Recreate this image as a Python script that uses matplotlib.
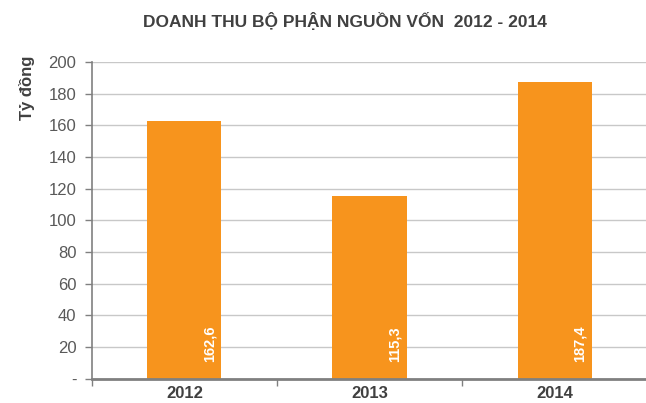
import matplotlib
matplotlib.use("Agg")
import matplotlib.pyplot as plt
import numpy as np

# data
years = ["2012", "2013", "2014"]
revenue = [162.6, 115.3, 187.4]
value_labels = ["162,6", "115,3", "187,4"]
y_ticks = [0, 20, 40, 60, 80, 100, 120, 140, 160, 180, 200]
y_tick_labels = ["-", "20", "40", "60", "80", "100", "120", "140", "160", "180", "200"]

plt.rcParams['font.family'] = ['Liberation Sans', 'DejaVu Sans']

fig = plt.figure(figsize=(6.46, 4.03), dpi=100)
ax = fig.add_axes([0.142, 0.06, 0.86, 0.786])

x = np.arange(len(years))
ax.bar(x, revenue, width=0.40, color='#F7941D', zorder=3)

for xi, lab in zip(x, value_labels):
    ax.text(xi + 0.135, 10.5, lab, rotation=90, ha='center', va='bottom',
            color='white', fontsize=10.5, fontweight='bold', zorder=4)

ax.set_ylim(0, 200)
ax.set_xlim(-0.5, 2.5)
ax.set_yticks(y_ticks)
ax.set_yticklabels(y_tick_labels, fontsize=12, color='#595959')
ax.yaxis.grid(True, color='#C8C8C8', linewidth=1, zorder=0)

# category labels centred, tick marks at boundaries
ax.set_xticks(x)
ax.set_xticklabels(years, fontsize=12, fontweight='bold', color='#404040')
ax.tick_params(axis='x', length=0, pad=5)
ax.set_xticks([-0.5, 0.5, 1.5, 2.5], minor=True)
ax.tick_params(axis='x', which='minor', length=5, color='#808080', width=1)
ax.tick_params(axis='y', length=5, color='#808080', width=1, pad=6)

for side in ['top', 'right']:
    ax.spines[side].set_visible(False)
ax.spines['left'].set_color('#808080')
ax.spines['left'].set_linewidth(1.2)
ax.spines['bottom'].set_color('#808080')
ax.spines['bottom'].set_linewidth(2)
ax.spines['bottom'].set_zorder(5)

ax.set_ylabel('Tỷ đồng', fontsize=12, fontweight='bold', color='#404040')
ax.yaxis.set_label_coords(-0.102, 0.92)

fig.text(0.534, 0.947, 'DOANH THU BỘ PHẬN NGUỒN VỐN  2012 - 2014', ha='center', va='center',
         fontsize=12.5, fontweight='bold', color='#404040')

fig.savefig('out.png', dpi=100)
